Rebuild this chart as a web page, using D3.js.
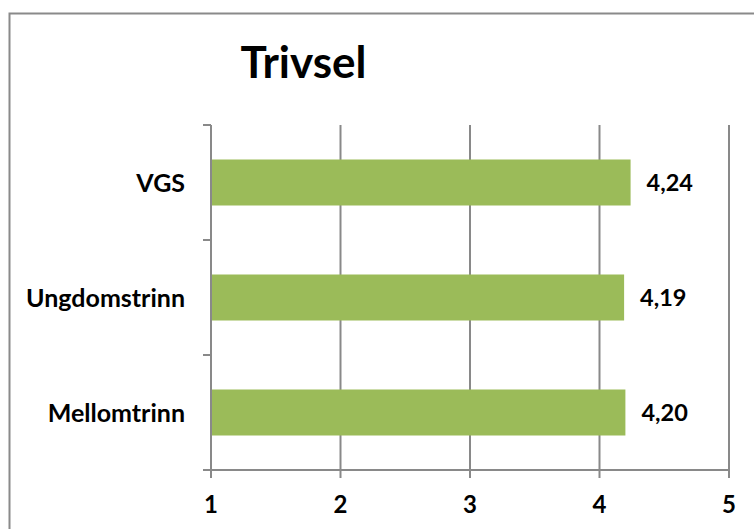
<!DOCTYPE html>
<html>
<head>
<meta charset="utf-8">
<script src="https://cdn.jsdelivr.net/npm/d3@7"></script>
<style>
  html, body { margin: 0; padding: 0; background: #fff; }
  svg { display: block; }
  text { font-family: Lato, "Open Sans", sans-serif; font-weight: bold; fill: #000; }
</style>
</head>
<body>
<svg id="chart" width="754" height="529"></svg>
<script>
const title = "Trivsel";
const categories = ["VGS", "Ungdomstrinn", "Mellomtrinn"];
const values = [4.24, 4.19, 4.20];
const valueLabels = ["4,24", "4,19", "4,20"];
const xTicks = [1, 2, 3, 4, 5];
const xTickLabels = ["1", "2", "3", "4", "5"];

const svg = d3.select("#chart");
const plot = { left: 211, right: 729, top: 125, bottom: 470 };
const gridColor = "#898989";

// outer chart border (right/bottom extend beyond the canvas)
svg.append("rect")
  .attr("x", 9.5).attr("y", 13.5)
  .attr("width", 800).attr("height", 600)
  .attr("fill", "#fff")
  .attr("stroke", "#8a8a8a").attr("stroke-width", 2);

const x = d3.scaleLinear().domain([1, 5]).range([plot.left, plot.right]);
const y = d3.scaleBand().domain(categories)
  .range([plot.top, plot.bottom])
  .paddingInner(0.6).paddingOuter(0.3);

// vertical gridlines
svg.append("g").selectAll("line")
  .data(xTicks.filter(d => d !== 1))
  .join("line")
  .attr("x1", d => x(d)).attr("x2", d => x(d))
  .attr("y1", plot.top).attr("y2", plot.bottom)
  .attr("stroke", gridColor).attr("stroke-width", 2);

// bars
svg.append("g").selectAll("rect")
  .data(categories)
  .join("rect")
  .attr("x", x(1))
  .attr("y", d => y(d))
  .attr("width", (d, i) => x(values[i]) - x(1))
  .attr("height", y.bandwidth())
  .attr("fill", "#9BBB59");

// value labels
svg.append("g").selectAll("text")
  .data(categories)
  .join("text")
  .attr("x", (d, i) => x(values[i]) + 16)
  .attr("y", d => y(d) + y.bandwidth() / 2)
  .attr("dy", "0.36em")
  .attr("font-size", 23.5)
  .text((d, i) => valueLabels[i]);

// y axis line and category ticks
const yBoundaries = [plot.top].concat(categories.map(c => y(c) - y.step() * y.paddingInner() / 2 + y.step()));
yBoundaries[yBoundaries.length - 1] = plot.bottom;
svg.append("line")
  .attr("x1", plot.left).attr("x2", plot.left)
  .attr("y1", plot.top).attr("y2", plot.bottom)
  .attr("stroke", gridColor).attr("stroke-width", 2);
svg.append("g").selectAll("line")
  .data(yBoundaries)
  .join("line")
  .attr("x1", plot.left - 8).attr("x2", plot.left)
  .attr("y1", d => d).attr("y2", d => d)
  .attr("stroke", gridColor).attr("stroke-width", 2);

// category labels
svg.append("g").selectAll("text")
  .data(categories)
  .join("text")
  .attr("x", plot.left - 26)
  .attr("y", d => y(d) + y.bandwidth() / 2)
  .attr("dy", "0.36em")
  .attr("text-anchor", "end")
  .attr("font-size", 25)
  .text(d => d);

// x axis line and ticks
svg.append("line")
  .attr("x1", plot.left - 8).attr("x2", plot.right)
  .attr("y1", plot.bottom).attr("y2", plot.bottom)
  .attr("stroke", gridColor).attr("stroke-width", 2);
svg.append("g").selectAll("line")
  .data(xTicks)
  .join("line")
  .attr("x1", d => x(d)).attr("x2", d => x(d))
  .attr("y1", plot.bottom).attr("y2", plot.bottom + 8)
  .attr("stroke", gridColor).attr("stroke-width", 2);
svg.append("g").selectAll("text")
  .data(xTicks)
  .join("text")
  .attr("x", d => x(d))
  .attr("y", plot.bottom + 43)
  .attr("text-anchor", "middle")
  .attr("font-size", 24)
  .text((d, i) => xTickLabels[i]);

// title
svg.append("text")
  .attr("x", 303.5).attr("y", 78)
  .attr("text-anchor", "middle")
  .attr("font-size", 44)
  .text(title);
</script>
</body>
</html>
